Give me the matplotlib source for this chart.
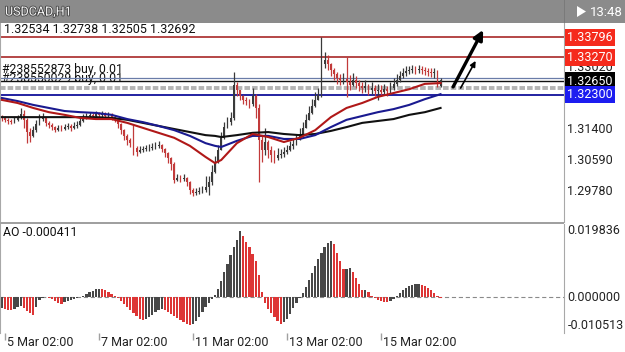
import matplotlib
matplotlib.use('Agg')
import matplotlib.pyplot as plt
import matplotlib.patheffects as pe
from matplotlib.patches import Rectangle, Polygon
from matplotlib.transforms import blended_transform_factory
import numpy as np

plt.rcParams['font.family'] = ['Roboto', 'DejaVu Sans']
plt.rcParams['lines.scale_dashes'] = False

# ---------------- data ----------------
symbol = "USDCAD,H1"
clock = "13:48"
ohlc_text = "1.32534 1.32738 1.32505 1.32692"

first_open = 1.3171
close = [
    1.3169, 1.3164, 1.3161, 1.3158, 1.3164, 1.3169, 1.3179, 1.3164, 1.3132, 1.3122,
    1.3137, 1.3153, 1.3166, 1.3169, 1.3156, 1.3150, 1.3145, 1.3137, 1.3143, 1.3140,
    1.3145, 1.3148, 1.3143, 1.3148, 1.3150, 1.3161, 1.3171, 1.3174, 1.3177, 1.3174,
    1.3179, 1.3177, 1.3179, 1.3174, 1.3177, 1.3171, 1.3166, 1.3153, 1.3137, 1.3122,
    1.3111, 1.3103, 1.3090, 1.3080, 1.3085, 1.3088, 1.3090, 1.3090, 1.3093, 1.3096,
    1.3098, 1.3088, 1.3077, 1.3064, 1.3049, 1.3007, 1.3012, 1.3009, 1.3012, 1.3001,
    1.2981, 1.2973, 1.2975, 1.2978, 1.2981, 1.2988, 1.3001, 1.3028, 1.3054, 1.3085,
    1.3117, 1.3145, 1.3158, 1.3169, 1.3255, 1.3242, 1.3226, 1.3216, 1.3213, 1.3205,
    1.3226, 1.3195, 1.3111, 1.3085, 1.3106, 1.3085, 1.3072, 1.3064, 1.3072, 1.3075,
    1.3080, 1.3085, 1.3096, 1.3101, 1.3111, 1.3127, 1.3143, 1.3164, 1.3182, 1.3200,
    1.3216, 1.3229, 1.3310, 1.3320, 1.3310, 1.3294, 1.3284, 1.3273, 1.3268, 1.3271,
    1.3263, 1.3255, 1.3268, 1.3260, 1.3252, 1.3247, 1.3252, 1.3242, 1.3247, 1.3239,
    1.3242, 1.3237, 1.3244, 1.3239, 1.3247, 1.3258, 1.3268, 1.3278, 1.3286, 1.3292,
    1.3294, 1.3297, 1.3294, 1.3297, 1.3294, 1.3292, 1.3289, 1.3286, 1.3289, 1.32534,
    1.32692]
high = [
    1.3177, 1.3174, 1.3169, 1.3166, 1.3171, 1.3177, 1.3195, 1.3190, 1.3169, 1.3143,
    1.3148, 1.3164, 1.3179, 1.3182, 1.3169, 1.3161, 1.3156, 1.3148, 1.3150, 1.3150,
    1.3153, 1.3156, 1.3153, 1.3158, 1.3161, 1.3171, 1.3179, 1.3182, 1.3184, 1.3182,
    1.3187, 1.3184, 1.3187, 1.3184, 1.3184, 1.3182, 1.3177, 1.3169, 1.3156, 1.3140,
    1.3127, 1.3117, 1.3150, 1.3096, 1.3096, 1.3096, 1.3098, 1.3101, 1.3103, 1.3106,
    1.3109, 1.3101, 1.3090, 1.3080, 1.3067, 1.3054, 1.3022, 1.3020, 1.3022, 1.3015,
    1.3004, 1.2986, 1.2986, 1.2988, 1.2991, 1.3017, 1.3017, 1.3046, 1.3069, 1.3098,
    1.3132, 1.3158, 1.3171, 1.3184, 1.3289, 1.3263, 1.3242, 1.3229, 1.3224, 1.3218,
    1.3247, 1.3231, 1.3205, 1.3124, 1.3143, 1.3111, 1.3096, 1.3085, 1.3090, 1.3088,
    1.3093, 1.3098, 1.3109, 1.3117, 1.3127, 1.3143, 1.3158, 1.3179, 1.3200, 1.3218,
    1.3237, 1.3247, 1.3380, 1.3340, 1.3333, 1.3312, 1.3299, 1.3289, 1.3284, 1.3286,
    1.3328, 1.3281, 1.3286, 1.3278, 1.3268, 1.3263, 1.3268, 1.3258, 1.3263, 1.3255,
    1.3258, 1.3255, 1.3258, 1.3252, 1.3263, 1.3273, 1.3284, 1.3292, 1.3299, 1.3305,
    1.3305, 1.3307, 1.3305, 1.3307, 1.3305, 1.3302, 1.3299, 1.3299, 1.3299, 1.3294,
    1.32738]
low = [
    1.3161, 1.3158, 1.3153, 1.3153, 1.3156, 1.3161, 1.3166, 1.3143, 1.3103, 1.3106,
    1.3119, 1.3132, 1.3150, 1.3161, 1.3148, 1.3143, 1.3137, 1.3132, 1.3135, 1.3135,
    1.3137, 1.3140, 1.3135, 1.3140, 1.3143, 1.3148, 1.3158, 1.3166, 1.3169, 1.3166,
    1.3171, 1.3169, 1.3171, 1.3166, 1.3169, 1.3164, 1.3158, 1.3143, 1.3127, 1.3111,
    1.3098, 1.3093, 1.3072, 1.3069, 1.3077, 1.3080, 1.3083, 1.3083, 1.3085, 1.3088,
    1.3090, 1.3080, 1.3067, 1.3051, 1.3033, 1.2999, 1.3004, 1.3001, 1.3004, 1.2991,
    1.2970, 1.2965, 1.2968, 1.2970, 1.2973, 1.2975, 1.2968, 1.2994, 1.3025, 1.3051,
    1.3085, 1.3114, 1.3143, 1.3150, 1.3164, 1.3226, 1.3216, 1.3205, 1.3203, 1.3195,
    1.3200, 1.3169, 1.3001, 1.3054, 1.3072, 1.3064, 1.3054, 1.3051, 1.3059, 1.3064,
    1.3067, 1.3075, 1.3083, 1.3088, 1.3098, 1.3111, 1.3127, 1.3143, 1.3164, 1.3179,
    1.3197, 1.3216, 1.3224, 1.3299, 1.3294, 1.3278, 1.3268, 1.3258, 1.3255, 1.3258,
    1.3224, 1.3242, 1.3252, 1.3247, 1.3239, 1.3234, 1.3237, 1.3229, 1.3231, 1.3226,
    1.3216, 1.3226, 1.3231, 1.3226, 1.3231, 1.3242, 1.3252, 1.3263, 1.3273, 1.3278,
    1.3284, 1.3286, 1.3284, 1.3286, 1.3284, 1.3281, 1.3278, 1.3276, 1.3273, 1.3250,
    1.32505]

ma_idx = [0, 5, 10, 15, 20, 25, 30, 35, 40, 45, 50, 55, 60, 65, 68, 70, 75, 80, 85, 90,
          95, 100, 105, 110, 115, 120, 125, 130, 135, 140]
ma_red = [1.3216, 1.3208, 1.3195, 1.3184, 1.3177, 1.3169, 1.3166, 1.3166, 1.3156, 1.3143,
          1.3130, 1.3117, 1.3096, 1.3067, 1.3051, 1.3059, 1.3103, 1.3127, 1.3119, 1.3106,
          1.3117, 1.3137, 1.3171, 1.3195, 1.3208, 1.3224, 1.3234, 1.3244, 1.3258, 1.3260]
ma_blue = [1.3221, 1.3213, 1.3203, 1.3195, 1.3187, 1.3184, 1.3182, 1.3177, 1.3166, 1.3158,
           1.3148, 1.3137, 1.3122, 1.3103, 1.3096, 1.3093, 1.3109, 1.3122, 1.3122, 1.3114,
           1.3114, 1.3124, 1.3145, 1.3164, 1.3174, 1.3184, 1.3192, 1.3203, 1.3218, 1.3231]
ma_black = [1.3171, 1.3171, 1.3171, 1.3171, 1.3171, 1.3171, 1.3171, 1.3169, 1.3164, 1.3156,
            1.3148, 1.3140, 1.3132, 1.3124, 1.3122, 1.3119, 1.3124, 1.3130, 1.3132, 1.3127,
            1.3124, 1.3127, 1.3135, 1.3145, 1.3156, 1.3161, 1.3166, 1.3177, 1.3184, 1.3195]

ao = [
    -0.0033, -0.0036, -0.0039, -0.0039, -0.0036, -0.0030, -0.0027, -0.0033, -0.0042, -0.0048,
    -0.0053, -0.0030, -0.0009, -0.0003, 0.00015, -0.00015, -0.0006, -0.0012, -0.0018, -0.0021,
    -0.0015, -0.0012, -0.0009, -0.0006, -0.0003, 0.00015, 0.00045, 0.0009, 0.0015, 0.0019,
    0.0023, 0.0025, 0.0024, 0.0021, 0.0015, 0.0009, 0.0003, -0.0003, -0.0012, -0.0021,
    -0.0030, -0.0039, -0.0048, -0.0056, -0.0065, -0.0068, -0.0065, -0.0059, -0.0053, -0.0045,
    -0.0039, -0.0036, -0.0039, -0.0045, -0.0050, -0.0056, -0.0062, -0.0068, -0.0074, -0.0080,
    -0.0083, -0.0080, -0.0071, -0.0059, -0.0045, -0.0030, -0.0018, -0.0006, 0.0006, 0.0024,
    0.0048, 0.0074, 0.0098, 0.0125, 0.0149, 0.0172, 0.019836, 0.0184, 0.0166, 0.0149,
    0.0128, 0.0107, 0.0065, 0.0015, -0.0018, -0.0036, -0.0048, -0.0059, -0.0071, -0.0080,
    -0.0074, -0.0065, -0.0050, -0.0033, -0.0018, -0.0003, 0.0012, 0.0030, 0.0050, 0.0071,
    0.0092, 0.0113, 0.0131, 0.0149, 0.0163, 0.0169, 0.0160, 0.0131, 0.0107, 0.0083,
    0.0085, 0.0087, 0.0074, 0.0056, 0.0039, 0.0021, 0.0022, 0.0015, 0.0003, -0.0003,
    -0.0008, -0.0012, -0.0015, -0.0016, -0.0013, -0.0007, 0.0002, 0.0012, 0.0020, 0.0027,
    0.0032, 0.0036, 0.0038, 0.0039, 0.0037, 0.0033, 0.0027, 0.0020, 0.0012, 0.0004,
    -0.000411]
ao_label = "AO -0.000411"

level_red = [1.33796, 1.33270]
level_black = 1.32650
level_blue = 1.32300
bid_line = 1.32730
order_line = 1.32470
order_texts = ["#238552873 buy, 0.01", "#238550029 buy, 0.01"]
order_text_y = [1.32955, 1.32725]

price_ticks = [1.33020, 1.32210, 1.31400, 1.30590, 1.29780]
price_tick_labels = ["1.33020", "1.32210", "1.31400", "1.30590", "1.29780"]
ao_ticks = [0.019836, 0.0, -0.010513]
ao_tick_labels = ["0.019836", "0.000000", "-0.010513"]

date_idx = [1, 31, 61, 91, 121]
date_labels = ["5 Mar 02:00", "7 Mar 02:00", "11 Mar 02:00", "13 Mar 02:00", "15 Mar 02:00"]

# user drawn arrows (bar index, price)
arrow_big = ((144.0, 1.3250), (153.6, 1.3399))
arrow_small = ((146.4, 1.3247), (151.2, 1.3318))

# ---------------- figure ----------------
W, H = 625, 352
fig = plt.figure(figsize=(W / 100, H / 100), dpi=100)
fig.patch.set_facecolor('white')


def fy(py):
    return 1 - py / H


axw = 564 / W
ax = fig.add_axes([0, fy(222), axw, (222 - 23) / H])
ax2 = fig.add_axes([0, fy(333), axw, (333 - 224) / H])

xlim = (-0.6, 179.4)
for a in (ax, ax2):
    a.set_xlim(*xlim)
    a.set_facecolor('white')
    for s in a.spines.values():
        s.set_visible(False)
    a.spines['left'].set_visible(True)
    a.spines['right'].set_visible(True)
    a.spines['left'].set_color('#a8a8a8')
    a.spines['right'].set_color('#a8a8a8')
    a.set_yticks([])

ax.set_ylim(1.28970, 1.34170)
ax.set_xticks([])

# candles
x = np.arange(len(close))
c = np.array(close)
o = np.array([first_open] + close[:-1])
hi = np.array(high)
lo = np.array(low)
up = c >= o
col = np.where(up, '#3a3a3a', '#c23a3a')
ax.vlines(x, lo, hi, colors=col, lw=0.9, zorder=3)
ax.bar(x, c - o, bottom=o, width=0.55, color=col, zorder=3)

# moving averages
ax.plot(ma_idx, ma_black, color='#111111', lw=1.5, zorder=4)
ax.plot(ma_idx, ma_blue, color='#1a1a90', lw=1.5, zorder=4)
ax.plot(ma_idx, ma_red, color='#b01818', lw=1.5, zorder=4)

# horizontal levels
for lv in level_red:
    ax.axhline(lv, color='#a01515', lw=1.1, zorder=2)
ax.axhline(bid_line, color='#6a7ca8', lw=0.9, zorder=2)
ax.axhline(level_black, color='#111111', lw=1.0, zorder=2)
ax.axhline(order_line, color='#b4b4b4', lw=2.8, ls=(0, (4, 1.5)), zorder=2)
ax.axhline(level_blue, color='#10109a', lw=1.3, zorder=2)

# order texts
bt = blended_transform_factory(ax.transAxes, ax.transData)
ax.text(0.003, order_text_y[0], order_texts[0], fontsize=8.8, color='#111111',
        va='center', ha='left', zorder=5, transform=bt)
t2 = ax.text(0.003, order_text_y[1], order_texts[1], fontsize=8.8, color='#111111',
             va='center', ha='left', zorder=1, transform=bt)
clip_rect = Rectangle((-1, 1.32655), 200, 0.02, transform=ax.transData)
t2.set_clip_path(clip_rect)

# arrows
ax.annotate('', xy=arrow_big[1], xytext=arrow_big[0],
            arrowprops=dict(arrowstyle='-|>', lw=2.4, color='black', mutation_scale=14,
                            shrinkA=0, shrinkB=0), zorder=6)
ax.annotate('', xy=arrow_small[1], xytext=arrow_small[0],
            arrowprops=dict(arrowstyle='-|>', lw=1.2, color='black', mutation_scale=8,
                            shrinkA=0, shrinkB=0), zorder=6)

# price axis labels
ytr = ax.get_yaxis_transform()
for p, lab in zip(price_ticks, price_tick_labels):
    ax.text(1.006, p, lab, transform=ytr, fontsize=9, color='#222222', va='center',
            ha='left', clip_on=False, zorder=1)
boxes = [(level_red[0], '#f52a1c', 'white'), (level_red[1], '#f52a1c', 'white'),
         (level_black, '#000000', 'white'), (level_blue, '#1c1cf0', 'white')]
for p, fc, tc in boxes:
    ax.text(1.006, p, f"{p:.5f}", transform=ytr, fontsize=9, color=tc, va='center',
            ha='left', clip_on=False, zorder=10,
            bbox=dict(boxstyle='square,pad=0.18', fc=fc, ec='none'))

# AO panel
ax2.set_ylim(-0.0108, 0.02192)
aov = np.array(ao)
prev = np.concatenate([[aov[0] - 1], aov[:-1]])
aocol = np.where(aov > prev, '#474747', '#dd3535')
ax2.axhline(0, color='#8a8a8a', lw=0.8, ls=(0, (3, 2)), zorder=1)
ax2.bar(x, aov, width=0.72, color=aocol, zorder=2)
ax2.text(0.005, 0.92, ao_label, transform=ax2.transAxes, fontsize=8.8, color='#111111',
         va='center', ha='left')
ytr2 = ax2.get_yaxis_transform()
for v, lab in zip(ao_ticks, ao_tick_labels):
    va = 'center'
    if v < 0:
        va = 'bottom'
    ax2.text(1.006, v, lab, transform=ytr2, fontsize=9, color='#222222', va=va,
             ha='left', clip_on=False)

ax2.set_xticks(date_idx)
ax2.set_xticklabels([])
ax2.tick_params(axis='x', direction='out', length=5, color='#a0a0a0', width=1)
xtr = blended_transform_factory(ax2.transData, ax2.transAxes)
for i, lab in zip(date_idx, date_labels):
    ax2.text(i + 0.5, -0.085, lab, transform=xtr, fontsize=9, color='#222222',
             va='center', ha='left', clip_on=False)

# separator between panels
fig.add_artist(Rectangle((0, fy(224)), axw, 2 / H, transform=fig.transFigure,
                         fc='#a0a0a0', ec='none'))

# header bar
fig.add_artist(Rectangle((0, fy(23)), 1, 23 / H, transform=fig.transFigure,
                         fc='#8b8b8b', ec='none'))
fig.add_artist(Rectangle((axw, fy(23)), 1 / W, 23 / H, transform=fig.transFigure,
                         fc='#7a7a7a', ec='none'))
fig.text(5 / W, fy(12), symbol, fontsize=9, color='#f2f2f2', va='center', ha='left',
         path_effects=[pe.withStroke(linewidth=1.2, foreground='#444444')])
fig.text(590 / W, fy(12), clock, fontsize=9.5, color='white', va='center', ha='left')
fig.add_artist(Polygon([[577 / W, fy(6)], [586 / W, fy(11.5)], [577 / W, fy(17)]],
                       closed=True, transform=fig.transFigure, fc='white', ec='none'))
fig.text(4 / W, fy(29.5), ohlc_text, fontsize=9, color='#111111', va='center', ha='left')

fig.savefig('out.png', dpi=100)
